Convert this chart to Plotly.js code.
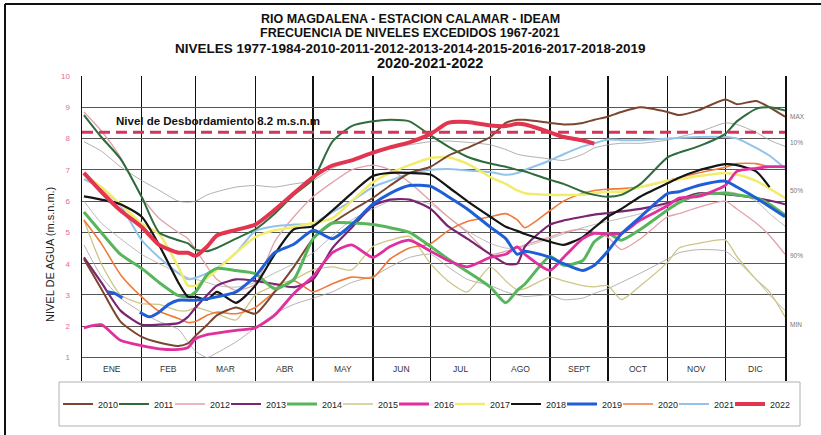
<!DOCTYPE html>
<html><head><meta charset="utf-8">
<script src="https://cdn.plot.ly/plotly-3.0.1.min.js"></script>
<style>html,body{margin:0;padding:0;background:#fff;} #chart{width:821px;height:435px;}</style>
</head><body><div id="chart"></div>
<script>
// ---- data (day of year, water level m.s.n.m.) ----
const days = [1,10,20,31,40,50,55,59,65,70,80,90,100,110,120,130,140,151,160,170,181,190,200,212,220,226,230,243,250,260,266,273,280,290,304,310,320,334,340,350,357,365];
const y2010 = [4.15,3.2,2.15,1.66,1.48,1.37,1.45,1.7,2.05,2.35,2.6,2.4,3.1,3.9,4.8,5.3,5.7,6.1,6.5,6.9,7.1,7.45,7.7,8.05,8.5,8.6,8.6,8.5,8.45,8.5,8.6,8.7,8.85,9.0,8.85,8.75,8.9,9.25,9.1,9.2,9.0,8.7];
const y2011 = [8.75,8.05,7.35,6.13,5.0,4.75,4.65,4.45,4.4,4.5,4.8,5.1,5.6,6.2,6.7,7.9,8.4,8.55,8.6,8.55,8.1,7.75,7.42,7.2,7.1,7.0,6.95,6.68,6.55,6.3,6.2,6.14,6.2,6.55,7.4,7.55,7.75,8.15,8.55,8.95,9.0,8.9];
const y2012 = [8.85,8.25,7.4,6.13,5.45,5.0,4.8,4.45,3.9,3.5,3.15,3.35,4.7,5.5,6.14,6.6,7.0,7.15,7.0,6.6,6.0,5.5,5.0,4.3,4.4,4.5,4.6,4.85,5.0,5.1,5.0,4.85,4.45,4.8,5.5,5.6,5.8,6.0,5.75,5.3,4.9,4.3];
const y2013 = [4.2,3.4,2.5,2.05,2.05,2.1,2.3,2.6,3.0,3.3,3.5,3.45,3.35,3.25,3.5,4.5,5.15,5.85,6.05,6.05,5.75,5.2,4.8,4.3,4.0,4.0,4.55,5.25,5.38,5.5,5.57,5.62,5.67,5.75,5.94,6.05,6.25,6.22,6.18,6.1,6.02,5.9];
const y2014 = [5.65,5.0,4.3,3.85,3.4,2.98,2.95,3.1,3.65,3.85,3.78,3.68,3.2,3.5,4.8,5.3,5.3,5.25,5.15,5.0,4.55,4.15,3.75,3.25,2.75,3.15,3.35,4.23,3.95,4.1,4.7,4.97,4.75,5.1,5.72,5.95,6.2,6.25,6.2,6.1,5.9,5.55];
const y2015 = [5.4,4.0,3.0,2.72,2.7,2.5,2.5,2.6,2.5,2.4,2.2,3.0,3.3,3.5,3.8,3.9,3.8,4.55,4.75,4.87,4.0,3.45,3.1,3.9,3.45,3.16,3.2,3.57,3.45,3.3,3.26,3.3,2.85,3.3,4.05,4.5,4.65,4.76,4.23,3.5,3.1,2.3];
const y2016 = [1.95,2.05,1.55,1.38,1.28,1.26,1.32,1.6,1.73,1.78,1.87,1.95,2.35,3.05,3.6,4.35,4.6,4.2,4.55,4.75,4.4,4.1,3.9,4.2,4.3,4.54,4.3,3.79,4.2,4.8,4.97,4.95,4.97,5.4,5.85,6.1,6.15,6.5,6.95,7.05,7.1,7.1];
const y2017 = [6.85,6.45,5.9,5.28,4.95,3.9,3.3,3.3,3.55,3.8,4.35,4.85,5.07,5.17,5.3,5.45,6.0,6.6,6.9,7.15,7.38,7.4,7.2,6.77,6.55,6.34,6.25,6.2,6.2,6.2,6.25,6.3,6.3,6.45,6.65,6.7,6.8,6.9,6.85,6.65,6.4,6.1];
const y2018 = [6.15,6.05,5.9,5.5,4.6,3.4,2.94,2.94,2.85,3.1,2.75,3.3,4.3,5.1,5.2,5.7,6.25,6.8,6.9,6.9,6.85,6.46,6.0,5.5,5.18,5.05,4.95,4.7,4.6,4.85,5.15,5.5,5.75,6.15,6.57,6.75,6.98,7.18,7.15,6.95,6.45,null];
const days2019 = [13,17,21,26,30,35,40,45,50,59,70,80,90,100,110,120,130,140,151,160,170,181,190,200,212,220,226,230,243,250,260,266,273,280,290,304,310,320,334,340,350,365];
const y2019 = [3.1,3.05,2.9,null,2.45,2.3,2.45,2.7,2.83,2.83,2.94,3.1,3.6,4.35,4.62,5.07,4.8,5.25,5.9,6.25,6.5,6.47,6.15,5.75,5.17,4.8,4.3,4.4,4.2,4.0,3.78,3.95,4.4,4.95,5.5,6.24,6.3,6.5,6.64,6.45,6.1,5.5];
const y2020 = [5.4,4.65,3.65,2.94,2.48,2.25,2.12,2.15,2.35,2.45,2.4,2.6,3.1,3.45,3.1,3.36,3.57,3.55,4.15,4.5,4.64,5.05,5.35,5.5,5.6,5.4,5.15,5.7,6.0,6.25,6.34,6.38,6.4,6.45,6.65,6.75,6.9,7.08,7.2,7.2,7.1,7.1];
const y2021 = [6.7,6.4,5.85,4.75,4.2,3.7,3.5,3.55,3.7,3.85,4.35,5.05,5.2,5.25,5.28,5.65,6.0,6.45,6.66,6.88,7.0,7.03,6.98,6.93,6.84,6.9,7.0,7.3,7.5,7.75,7.85,7.97,7.95,7.95,8.0,8.02,8.05,8.05,8.0,7.7,7.45,7.05];
const y2022 = [6.9,6.3,5.7,5.17,4.6,4.35,4.35,4.25,4.55,4.9,5.08,5.25,5.72,6.25,6.77,7.14,7.3,7.55,7.72,7.88,8.15,8.5,8.53,8.42,8.4,8.47,8.45,8.2,8.05,7.94,7.84,null,null,null,null,null,null,null,null,null,null,null];
// frequency curves (thin grey)
const freq10 = [7.9,7.6,7.1,6.66,6.35,6.0,5.97,6.0,6.2,6.3,6.45,6.5,6.45,6.55,6.66,7.05,7.3,7.5,7.68,7.8,7.9,7.92,7.88,7.8,7.65,7.5,7.45,7.35,7.3,7.5,7.7,7.8,7.85,7.85,7.95,8.05,8.2,8.5,8.45,8.2,7.95,7.75];
const freq50 = [6.0,5.3,4.8,4.3,4.0,3.7,3.55,3.5,3.4,3.3,3.25,3.4,3.7,4.0,4.35,4.9,5.4,5.75,6.0,6.05,5.9,5.5,5.05,4.65,4.5,4.5,4.55,4.8,4.95,5.15,5.25,5.35,5.45,5.6,5.9,6.0,6.15,6.3,6.25,6.0,5.6,5.2];
const freq90 = [4.6,3.6,2.9,2.45,2.15,1.9,1.5,1.2,1.0,1.15,1.5,1.95,2.4,2.7,2.9,3.1,3.4,3.6,3.9,4.2,4.3,3.9,3.5,3.3,3.1,3.0,2.95,3.0,2.85,2.9,3.05,3.2,3.4,3.7,4.15,4.35,4.45,4.4,4.1,3.5,3.0,2.5];

const years  = ['2010','2011','2012','2013','2014','2015','2016','2017','2018','2019','2020','2021','2022'];
const yearValues = [y2010,y2011,y2012,y2013,y2014,y2015,y2016,y2017,y2018,y2019,y2020,y2021,y2022];
const yearDays = [days,days,days,days,days,days,days,days,days,days2019,days,days,days];
const colors = ['#7b4630','#2f6b3c','#e3a2aa','#7a2572','#57b65b','#cdc685','#e22f9e','#f2ec6c','#151515','#1f5fd6','#ef7a3a','#94c3ea','#e2354f'];
const widths = [2,2,1.3,2.2,3,1.3,2.8,2.5,2.2,3,1.6,2,4];
const drawOrder = ['2015','2012','2020','2021','2017','2013','2010','2011','2014','2018','2016','2019','2022'];

const monthStarts = [0,31,59,90,120,151,181,212,243,273,304,334,365];
const monthLabels = ['ENE','FEB','MAR','ABR','MAY','JUN','JUL','AGO','SEPT','OCT','NOV','DIC'];
const yTicks = [1,2,3,4,5,6,7,8,9,10];
const freqLabels = ['MAX','10%','50%','90%','MIN'];
const freqLabelLevels = [8.69,7.89,6.35,4.25,2.05];
const overflowLevel = 8.2;
const overflowText = 'Nivel de Desbordamiento 8.2 m.s.n.m';
const titleLines = ['RIO MAGDALENA - ESTACION CALAMAR - IDEAM','FRECUENCIA DE NIVELES EXCEDIDOS 1967-2021','NIVELES 1977-1984-2010-2011-2012-2013-2014-2015-2016-2017-2018-2019','2020-2021-2022'];

// ---- geometry helpers (page pixels -> paper coords) ----
const W = 821, H = 435, M = {l:82, r:36, t:76, b:54};
const PW = W - M.l - M.r, PH = H - M.t - M.b;
const px = v => (v - M.l) / PW;
const py = v => (H - M.b - v) / PH;
const FONT = 'Liberation Sans, Arial, sans-serif';

const traces = [];
[[freq10,'#9a9a9a'],[freq50,'#ababab'],[freq90,'#a0a0a0']].forEach(([v,c]) => {
  traces.push({x: days, y: v, type:'scatter', mode:'lines', showlegend:false,
    line:{color:c, width:0.8, shape:'spline', smoothing:0.6}, hoverinfo:'skip'});
});
drawOrder.forEach(yr => {
  const i = years.indexOf(yr);
  if (yr === '2022') {
    traces.push({x:[0,365], y:[overflowLevel, overflowLevel], type:'scatter', mode:'lines', showlegend:false,
      line:{color:'#d2365a', width:3, dash:'11px,6px'}, hoverinfo:'skip'});
  }
  const tr = {x: yearDays[i], y: yearValues[i], type:'scatter', mode:'lines', name: yr,
    legendrank: i + 1, connectgaps:false,
    line:{color: colors[i], width: widths[i], shape:'spline', smoothing:0.6}};
  if (yr === '2022') tr.legendwidth = 24;
  traces.push(tr);
});

const titleSizes = [12.5, 12.5, 13.5, 14.5];
const titleX = [410, 410, 410, 430];
const annotations = [];
titleLines.forEach((t, k) => {
  annotations.push({xref:'paper', yref:'paper', x: px(titleX[k]), y: py(19 + k*14.5),
    text: '<b>' + t + '</b>', showarrow:false, xanchor:'center', yanchor:'middle',
    font:{family:FONT, size:titleSizes[k], color:'#111'}});
});
monthLabels.forEach((m, k) => {
  annotations.push({xref:'x', yref:'y', x:(monthStarts[k] + monthStarts[k+1]) / 2, y:0.64,
    text:m, showarrow:false, font:{family:'Liberation Sans Narrow, Liberation Sans, Arial', size:8.5, color:'#333'}});
});
freqLabels.forEach((t, k) => {
  annotations.push({xref:'paper', yref:'y', x: px(788), y: freqLabelLevels[k], text:t,
    showarrow:false, xanchor:'left', font:{family:FONT, size:6.5, color:'#777'}});
});
annotations.push({xref:'x', yref:'y', x: 70.5, y: 8.56, text:'<b>' + overflowText + '</b>', showarrow:false,
  xanchor:'center', font:{family:FONT, size:11.5, color:'#111'}});
annotations.push({xref:'paper', yref:'paper', x: px(50), y: py(255), text:'NIVEL DE AGUA (m.s.n.m.)',
  textangle:-90, showarrow:false, xanchor:'center', yanchor:'middle', font:{family:FONT, size:11, color:'#222'}});

const shapes = [
  {type:'line', xref:'paper', yref:'paper', x0:px(5), x1:px(821), y0:py(4), y1:py(4), line:{color:'#111', width:2}},
  {type:'line', xref:'paper', yref:'paper', x0:px(5), x1:px(5), y0:py(4), y1:py(435), line:{color:'#111', width:2}},
  {type:'rect', xref:'paper', yref:'paper', x0:px(59), x1:px(800), y0:py(382), y1:py(426), line:{color:'#b0b0b0', width:1}}
];

const layout = {
  width: W, height: H, margin: M, paper_bgcolor:'#fff', plot_bgcolor:'#fff',
  font:{family:FONT, color:'#222'},
  showlegend:true,
  legend:{orientation:'h', x: px(58), xanchor:'left', y: py(404), yanchor:'middle',
    font:{family:FONT, size:9, color:'#222'}, entrywidth:11, entrywidthmode:'pixels',
    itemwidth:30, bgcolor:'rgba(0,0,0,0)', borderwidth:0, traceorder:'normal'},
  xaxis:{range:[0,365], tickvals: monthStarts, showticklabels:false, ticks:'',
    showgrid:true, gridcolor:'#111', gridwidth:1.5, zeroline:false, showline:false, fixedrange:true},
  yaxis:{range:[0.25,10], tickvals: yTicks, ticks:'', ticklabelstandoff:9,
    tickfont:{family:FONT, size:8, color:'#e46a90'},
    showgrid:true, gridcolor:'#555', gridwidth:1, zeroline:false,
    showline:true, mirror:true, linecolor:'#111', linewidth:1.5, fixedrange:true},
  annotations, shapes, hovermode:false
};
Plotly.newPlot('chart', traces, layout, {displayModeBar:false, staticPlot:true});
</script></body></html>
